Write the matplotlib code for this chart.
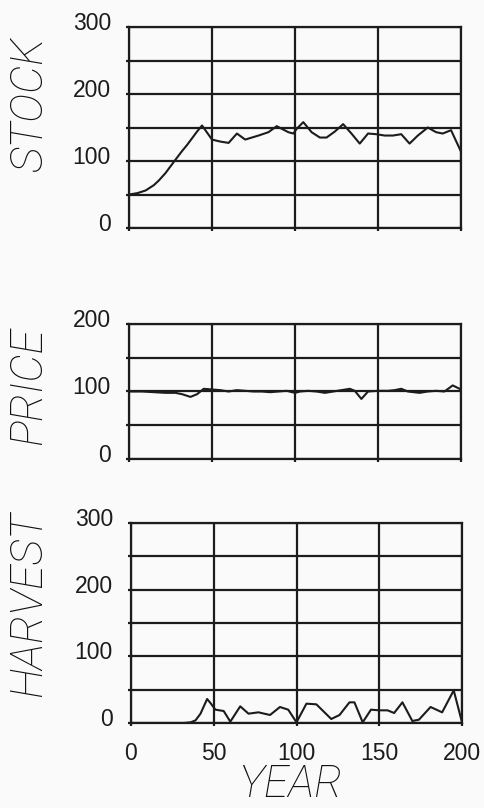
import matplotlib
matplotlib.use("Agg")
import matplotlib.pyplot as plt
from matplotlib.transforms import ScaledTranslation

# Simulated fishery run: stock, price and harvest over 200 years
stock_years = [0, 5, 10, 15, 18, 22, 25, 28, 32, 35, 38, 41, 44, 50, 55, 60, 65, 70, 74, 78,
               84, 89, 96, 99, 101, 105, 110, 115, 119, 124, 129, 134, 139, 144, 149, 154,
               159, 164, 169, 174, 180, 185, 189, 194, 200]
stock_values = [50, 52, 56, 64, 71, 82, 92, 102, 115, 124, 134, 144, 153, 132, 129, 127, 141,
                132, 135, 138, 143, 152, 143, 141, 148, 158, 143, 135, 135, 144, 155, 141, 126,
                141, 140, 138, 138, 140, 126, 138, 150, 143, 141, 146, 114]

price_years = [0, 8, 15, 22, 28, 32, 37, 41, 45, 50, 55, 60, 65, 70, 75, 80, 85, 90, 95, 100,
               103, 108, 113, 118, 123, 128, 133, 136, 140, 144, 150, 156, 160, 164, 168, 175,
               180, 185, 190, 195, 200]
price_values = [100, 100, 99, 98, 98, 96, 92, 96, 104, 103, 102, 100, 102, 101, 100, 100, 99,
                100, 101, 98, 100, 101, 100, 98, 100, 102, 104, 101, 89, 100, 101, 101, 102,
                104, 100, 98, 100, 101, 100, 109, 103]

harvest_years = [0, 20, 32, 36, 39, 42, 46, 48, 51, 56, 60, 66, 71, 77, 84, 90, 95, 100, 106,
                 112, 121, 126, 132, 135, 140, 145, 150, 155, 159, 164, 170, 174, 181, 188,
                 195, 200]
harvest_values = [0, 0, 0, 1, 4, 14, 36, 30, 20, 18, 2, 25, 14, 16, 12, 24, 20, 1, 29, 28, 6,
                  12, 31, 31, 1, 20, 19, 19, 15, 31, 3, 5, 24, 16, 49, 1]

year_ticks = [0, 50, 100, 150, 200]
panel_names = ["STOCK", "PRICE", "HARVEST"]
panel_ymax = [300, 200, 300]

INK = "#1c1c1c"
PAPER = "#fafafa"
W, H = 485, 808

fig = plt.figure(figsize=(W / 100, H / 100), dpi=100, facecolor=PAPER)


def px_axes(x0, x1, ytop, ybot):
    return fig.add_axes([x0 / W, 1 - ybot / H, (x1 - x0) / W, (ybot - ytop) / H])


axes = [
    px_axes(129, 461, 27, 228),
    px_axes(129, 461, 324, 459),
    px_axes(131, 462, 523, 723),
]

series = [(stock_years, stock_values), (price_years, price_values),
          (harvest_years, harvest_values)]

tick_font = dict(family=["Liberation Sans", "DejaVu Sans"], size=16.5)
label_font = dict(family=["Roboto", "DejaVu Sans"], size=32, style="italic",
                  weight="light", color="#111111")

for ax, (xs, ys), ymax in zip(axes, series, panel_ymax):
    ax.set_facecolor("none")
    ax.set_xlim(0, 200)
    ax.set_ylim(0, ymax)
    ax.set_xticks(year_ticks)
    yt = list(range(0, ymax + 1, 50))
    ax.set_yticks(yt)
    ax.set_yticklabels([str(v) if v % 100 == 0 else "" for v in yt], **tick_font)
    ax.grid(True, color=INK, linewidth=1.6)
    ax.set_axisbelow(True)
    for sp in ax.spines.values():
        sp.set_color(INK)
        sp.set_linewidth(1.6)
    ax.tick_params(direction="out", length=2.5, width=1.6, color=INK,
                   labelcolor=INK, pad=10.5)
    shift = ScaledTranslation(0, 6 / 100, fig.dpi_scale_trans)
    for lab in ax.get_yticklabels():
        lab.set_transform(lab.get_transform() + shift)
    ax.plot(xs, ys, color=INK, linewidth=1.5, solid_joinstyle="round")

for ax in axes[:2]:
    ax.tick_params(axis="x", labelbottom=False)
axes[2].set_xticklabels([str(v) for v in year_ticks], **tick_font)
axes[2].tick_params(axis="x", pad=11)

# Rotated panel titles and the shared year label
label_pos = [(30, 104), (29, 386), (29, 604)]
for name, (px, py) in zip(panel_names, label_pos):
    fig.text(px / W, 1 - py / H, name, rotation=90, ha="center", va="center", **label_font)
fig.text(290 / W, 1 - 806 / H, "YEAR", ha="center", va="bottom", **label_font)

fig.savefig("out.png", dpi=100, facecolor=PAPER)
